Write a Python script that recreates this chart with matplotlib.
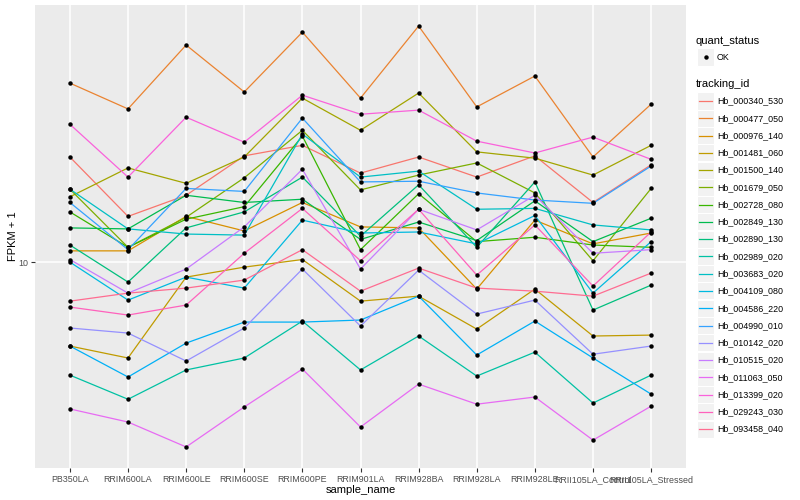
import numpy as np
import matplotlib
matplotlib.use("Agg")
import matplotlib.pyplot as plt
from matplotlib.patches import Rectangle
from matplotlib.lines import Line2D

samples = ["PB350LA", "RRIM600LA", "RRIM600LE", "RRIM600SE", "RRIM600PE", "RRIM901LA",
           "RRIM928BA", "RRIM928LA", "RRIM928LE", "RRII105LA_Control", "RRII105LA_Stressed"]

tracking_ids = ["Hb_000340_530", "Hb_000477_050", "Hb_000976_140", "Hb_001481_060",
                "Hb_001500_140", "Hb_001679_050", "Hb_002728_080", "Hb_002849_130",
                "Hb_002890_130", "Hb_002989_020", "Hb_003683_020", "Hb_004109_080",
                "Hb_004586_220", "Hb_004990_010", "Hb_010142_020", "Hb_010515_020",
                "Hb_011063_050", "Hb_013399_020", "Hb_029243_030", "Hb_093458_040"]

# FPKM + 1, one list per gene, in sample order
hb_000340_530 = [22.4, 14.2, 16.7, 22.6, 24.5, 19.8, 22.4, 19.2, 22.6, 15.8, 21.1]
hb_000477_050 = [39.5, 32.4, 52.9, 36.9, 58.4, 35.2, 61.2, 32.9, 41.7, 22.4, 33.6]
hb_000976_140 = [10.9, 10.9, 14.2, 12.7, 15.8, 13.1, 13.0, 8.13, 13.8, 11.5, 12.5]
hb_001481_060 = [5.25, 4.79, 8.91, 9.62, 10.2, 7.41, 7.70, 5.98, 8.13, 5.67, 5.71]
hb_001500_140 = [16.5, 20.6, 18.3, 22.4, 35.2, 27.5, 36.6, 23.3, 22.2, 19.5, 24.5]
hb_001679_050 = [17.5, 11.2, 14.1, 19.1, 27.5, 17.4, 19.5, 21.4, 17.0, 10.1, 17.6]
hb_002728_080 = [14.7, 11.2, 13.9, 15.3, 26.3, 11.0, 16.9, 11.7, 12.1, 11.4, 11.2]
hb_002849_130 = [13.0, 12.9, 16.7, 15.8, 16.2, 11.9, 13.6, 11.8, 16.0, 11.7, 14.0]
hb_002890_130 = [11.4, 8.58, 13.0, 14.7, 19.2, 12.2, 18.1, 11.2, 18.5, 6.92, 8.38]
hb_002989_020 = [4.20, 3.49, 4.37, 4.79, 6.36, 4.37, 5.67, 4.17, 5.01, 3.39, 4.20]
hb_003683_020 = [17.5, 12.9, 12.4, 12.3, 26.7, 19.2, 20.1, 15.0, 15.1, 13.3, 12.8]
hb_004109_080 = [10.0, 7.47, 8.91, 8.19, 13.8, 12.5, 12.6, 11.5, 14.3, 7.88, 11.7]
hb_004586_220 = [5.25, 4.14, 5.37, 6.31, 6.31, 6.41, 7.70, 4.90, 6.36, 4.79, 3.63]
hb_004990_010 = [15.8, 11.0, 17.6, 17.2, 30.2, 18.5, 18.6, 17.0, 16.1, 15.7, 20.9]
hb_010142_020 = [6.03, 5.80, 4.68, 6.03, 9.48, 6.12, 9.40, 6.71, 7.47, 4.93, 5.25]
hb_010515_020 = [10.2, 7.88, 9.48, 13.1, 20.4, 9.48, 15.0, 12.8, 16.7, 10.7, 11.0]
hb_011063_050 = [3.24, 2.93, 2.42, 3.29, 4.40, 2.82, 3.92, 3.36, 3.55, 2.55, 3.31]
hb_013399_020 = [28.8, 19.2, 30.4, 25.1, 36.0, 31.1, 32.1, 25.3, 23.1, 26.1, 22.0]
hb_029243_030 = [7.08, 6.66, 7.19, 10.7, 15.1, 10.1, 15.0, 9.05, 13.3, 8.32, 12.6]
hb_093458_040 = [7.41, 7.88, 8.19, 8.71, 11.0, 8.00, 9.55, 8.19, 8.00, 7.70, 9.19]

series = [hb_000340_530, hb_000477_050, hb_000976_140, hb_001481_060, hb_001500_140,
          hb_001679_050, hb_002728_080, hb_002849_130, hb_002890_130, hb_002989_020,
          hb_003683_020, hb_004109_080, hb_004586_220, hb_004990_010, hb_010142_020,
          hb_010515_020, hb_011063_050, hb_013399_020, hb_029243_030, hb_093458_040]

# ggplot default hue palette for 20 levels
colors = ["#F8766D", "#EA8331", "#D89000", "#C09B00", "#A3A500", "#7CAE00", "#39B600",
          "#00BB4E", "#00BF7D", "#00C1A3", "#00BFC4", "#00BAE0", "#00B0F6", "#35A2FF",
          "#9590FF", "#C77CFF", "#E76BF3", "#FA62DB", "#FF62BC", "#FF6C91"]

plt.rcParams['font.family'] = ['Liberation Sans', 'DejaVu Sans']

fig = plt.figure(figsize=(8, 5), dpi=100)
ax = fig.add_axes([35 / 800, 32 / 500, 651 / 800, 463 / 500])
ax.set_facecolor('#EBEBEB')

x = np.arange(len(samples))
for vals, col in zip(series, colors):
    ax.plot(x, vals, color=col, lw=0.9, zorder=2)
for vals in series:
    ax.plot(x, vals, 'o', color='black', ms=3.2, mec='none', zorder=3)

ax.set_yscale('log')
allv = np.concatenate([np.array(s) for s in series])
lo, hi = np.log10(allv.min()), np.log10(allv.max())
pad = (hi - lo) * 0.05
ax.set_ylim(10 ** (lo - pad), 10 ** (hi + pad))
ax.set_xlim(-0.6, len(samples) - 0.4)
ax.set_yticks([10])
ax.set_yticklabels(['10'])
ax.yaxis.set_minor_locator(matplotlib.ticker.NullLocator())
ax.set_xticks(x)
ax.set_xticklabels(samples)
ax.grid(True, color='white', lw=1.1)
ax.set_axisbelow(True)
for s in ax.spines.values():
    s.set_visible(False)
ax.tick_params(length=3, width=0.8, color='#333333', labelcolor='#4D4D4D', labelsize=6.4, pad=2)
ax.set_xlabel('sample_name', fontsize=8, labelpad=1)
ax.set_ylabel('FPKM + 1', fontsize=8, labelpad=0)

# legends, drawn by hand in pixel coords
def fx(px):
    return px / 800

def fy(py):
    return 1 - py / 500

def key_box(cy):
    fig.add_artist(Rectangle((fx(697), fy(cy + 8.5)), 17 / 800, 17 / 500,
                             transform=fig.transFigure, facecolor='#F2F2F2',
                             edgecolor='white', lw=0.8))

fig.text(fx(696), fy(41), 'quant_status', fontsize=8, va='center')
key_box(57)
fig.add_artist(Line2D([fx(705.5)], [fy(57)], marker='o', color='black', ms=3.2,
                      mec='none', ls='none', transform=fig.transFigure))
fig.text(fx(717), fy(57), 'OK', fontsize=6.4, va='center')

fig.text(fx(696), fy(84), 'tracking_id', fontsize=8, va='center')
for i, (name, col) in enumerate(zip(tracking_ids, colors)):
    cy = 101 + i * 17.27
    key_box(cy)
    fig.add_artist(Line2D([fx(699), fx(712)], [fy(cy), fy(cy)], color=col, lw=0.9,
                          transform=fig.transFigure))
    fig.text(fx(717), fy(cy), name, fontsize=6.4, va='center')

fig.savefig('out.png', dpi=100)
